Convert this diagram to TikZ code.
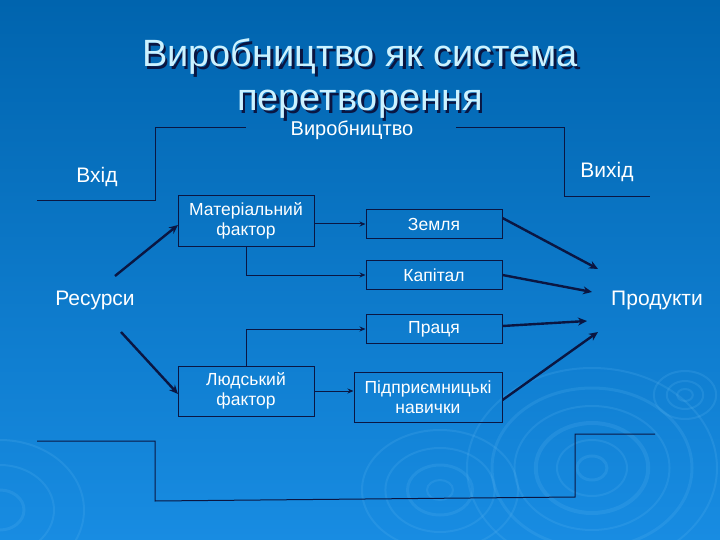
\documentclass[tikz,border=0pt]{standalone}
\usepackage{fontspec}
\setmainfont{Liberation Sans}
\usetikzlibrary{arrows.meta}
\definecolor{bgtop}{RGB}{0,100,174}
\definecolor{bgbot}{RGB}{24,140,226}
\definecolor{ink}{RGB}{10,22,66}
\definecolor{titlec}{RGB}{204,242,255}
\definecolor{ring}{RGB}{90,180,240}
\newcommand\shtext[1]{\makebox[0pt][l]{\hspace{2.5pt}\raisebox{-2.5pt}{\color{ink}#1}}#1}
\tikzset{
  box/.style={draw=ink, line width=1pt, text=white, align=center, minimum width=136pt, inner sep=2pt, font=\fontsize{17.5}{20}\selectfont},
  lbl/.style={text=white, font=\fontsize{21}{24}\selectfont, inner sep=0pt},
  thin/.style={draw=ink, line width=1pt},
  conn/.style={draw=ink, line width=1pt, -{Stealth[length=6pt,width=5pt]}},
  thick/.style={draw=ink, line width=2.4pt, -{Stealth[length=9pt,width=8pt]}},
  ringst/.style={draw=ring, opacity=0.2}
}
\begin{document}
\begin{tikzpicture}[x=1pt,y=-1pt]
\shade[top color=bgtop, bottom color=bgbot] (0,0) rectangle (720,540);
\useasboundingbox (0,0) rectangle (720,540);
% decorative rings
\foreach \r/\w in {12/3,28/2,45/4,62/2,80/3,100/2}{
  \draw[ringst, line width=\w pt] (592,468) ellipse ({\r*1.25} and \r);
}
\foreach \r/\w in {6/2,14/2,24/2}{
  \draw[ringst, line width=\w pt] (685,395) ellipse ({\r*1.3} and \r);
}
\foreach \r/\w in {10/2,25/3,42/2,60/2}{
  \draw[ringst, line width=\w pt] (440,490) ellipse ({\r*1.3} and \r);
}
\foreach \r/\w in {20/3,45/2,70/2}{
  \draw[ringst, line width=\w pt] (0,510) ellipse ({\r*1.2} and \r);
}
% title
\node[text=titlec, font=\fontsize{38}{44}\selectfont, align=center] (title) at (360,80) {\shtext{Виробництво як система}\\\shtext{перетворення}};
\node[lbl, font=\fontsize{20}{24}\selectfont] (vyr) at (352,130) {Виробництво};
% labels
\node[lbl] (vkhid) at (97,177) {Вхід};
\node[lbl] (vykhid) at (607,172) {Вихід};
\node[lbl] (res) at (95,300) {Ресурси};
\node[lbl] (prod) at (657,300) {Продукти};
% boxes
\node[box, minimum height=50pt] (mat) at (246,221) {Матеріальний\\фактор};
\node[box, minimum height=29pt] (zem) at (434,224) {Земля};
\node[box, minimum height=29pt] (kap) at (434,275) {Капітал};
\node[box, minimum height=29pt] (pra) at (434,329) {Праця};
\node[box, minimum width=148pt, minimum height=50pt] (pid) at (428,397) {Підприємницькі\\навички};
\node[box, minimum height=50pt] (lud) at (246,391) {Людський\\фактор};
% brackets
\coordinate (a1) at (37,201);
\coordinate (a2) at (155,201);
\coordinate (a3) at (155,128);
\coordinate (a4) at (246,128);
\coordinate (b1) at (456,128);
\coordinate (b2) at (564,128);
\coordinate (b3) at (564,197);
\coordinate (b4) at (650,197);
\draw[thin] (a1) -- (a2) -- (a3) -- (a4);
\draw[thin] (b1) -- (b2) -- (b3) -- (b4);
\coordinate (c1) at (37,441);
\coordinate (c2) at (155,441);
\coordinate (c3) at (155,501);
\coordinate (c4) at (575,497);
\coordinate (c5) at (575,434);
\coordinate (c6) at (655,434);
\draw[thin] (c1) -- (c2) -- (c3) -- (c4) -- (c5) -- (c6);
% internal connectors
\draw[conn] (mat.east |- zem.west) -- (zem.west);
\draw[conn] (mat.south) |- (kap.west);
\draw[conn] (lud.north) |- (pra.west);
\draw[conn] (lud.east) -- (lud.east -| pid.west);
% thick arrows
\coordinate (r1) at (115,276);
\coordinate (r2) at (121,332);
\draw[thick] (r1) -- (178,225);
\draw[thick] (r2) -- (178,394);
\coordinate (p1) at (598,269);
\coordinate (p2) at (592,292);
\coordinate (p3) at (587,321);
\coordinate (p4) at (598,332);
\draw[thick] (zem.east) ++(0,-6) -- (p1);
\draw[thick] (kap.east) -- (p2);
\draw[thick] (pra.east) ++(0,-3) -- (p3);
\draw[thick] (pid.east) ++(0,3) -- (p4);
\end{tikzpicture}
\end{document}
